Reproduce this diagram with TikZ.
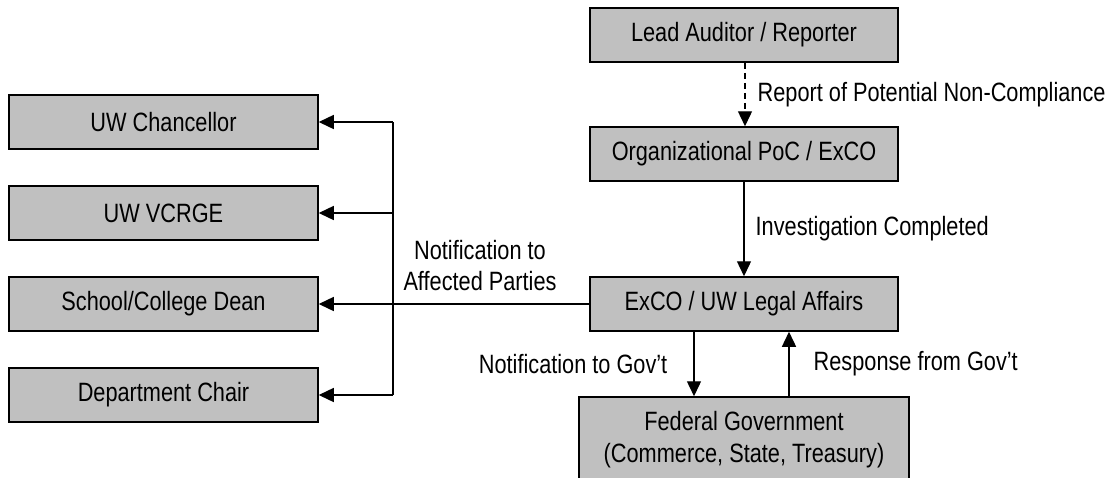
\documentclass[tikz,border=0pt]{standalone}
\usepackage{fontspec}
\setmainfont{Liberation Sans}[FakeStretch=0.82]
\usetikzlibrary{arrows.meta}
\begin{document}
\begin{tikzpicture}[x=1pt,y=-1pt,
  box/.style={draw=black, fill=boxgray, line width=1.5pt, minimum height=54pt, inner sep=0pt, font=\fontsize{26.5}{32}\selectfont, align=center},
  lbox/.style={box, minimum width=309pt},
  rbox/.style={box, minimum width=308pt},
  conn/.style={line width=1.4pt, -{Triangle[length=15pt,width=14pt]}},
  lbl/.style={font=\fontsize{26.5}{31}\selectfont, inner sep=0pt}]
\definecolor{boxgray}{HTML}{C0C0C0}
\useasboundingbox (0,0) rectangle (1109,477);
% right column
\node[rbox] (lead) at (744,35) {Lead Auditor / Reporter};
\node[rbox] (poc) at (744,154) {Organizational PoC / ExCO};
\node[rbox] (legal) at (744,304) {ExCO / UW Legal Affairs};
\node[box, minimum width=330pt, minimum height=86pt] (fed) at (744,440) {Federal Government\\(Commerce, State, Treasury)};
% left column
\node[lbox] (chan) at (163.5,122) {UW Chancellor};
\node[lbox] (vcrge) at (163.5,213) {UW VCRGE};
\node[lbox] (dean) at (163.5,304) {School/College Dean};
\node[lbox] (chair) at (163.5,395) {Department Chair};
% connectors
\draw[conn, dashed, dash pattern=on 6pt off 4pt] (lead.south -| 745,0) -- (poc.north -| 745,0)
  node[lbl, midway, right=12pt] {Report of Potential Non-Compliance};
\draw[conn] (poc.south -| 744,0) -- (legal.north -| 744,0)
  node[lbl, midway, right=11pt] {Investigation Completed};
\draw[conn] (legal.south -| 694,0) -- (fed.north -| 694,0)
  node[lbl, midway, left=26pt] {Notification to Gov't};
\draw[conn] (fed.north -| 789,0) -- (legal.south -| 789,0)
  node[lbl, midway, right=24pt] {Response from Gov't};
\coordinate (bt) at (393,122);
\coordinate (bb) at (393,395);
\draw[line width=1.4pt] (bt) -- (bb);
\draw[conn] (bt) -- (chan.east);
\draw[conn] (vcrge.east -| bt) -- (vcrge.east);
\draw[conn] (chair.east -| bt) -- (chair.east);
\draw[conn] (legal.west) -- (dean.east);
\node[lbl, align=center] (np) at (480,266) {Notification to\\Affected Parties};
\end{tikzpicture}
\end{document}
